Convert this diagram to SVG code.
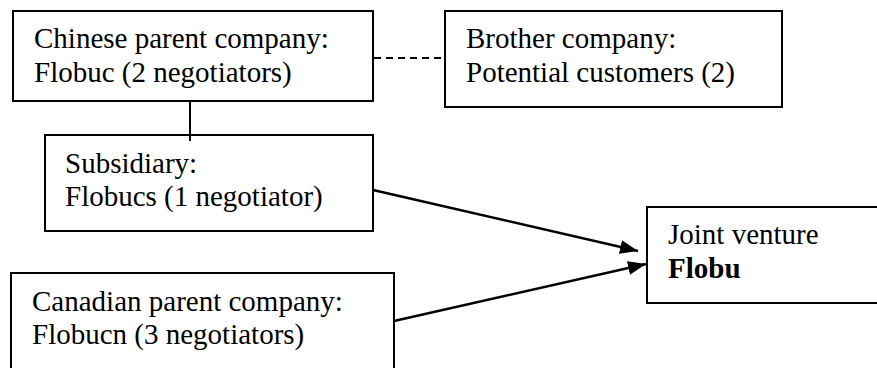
<svg xmlns="http://www.w3.org/2000/svg" width="877" height="368" viewBox="0 0 877 368">
  <style>
    .box { fill: #ffffff; stroke: #000000; stroke-width: 2; }
    .label { font-family: "Liberation Serif", "Times New Roman", Tinos, serif; font-size: 29px; fill: #000000; }
    .bold { font-weight: bold; }
    .link { stroke: #000000; stroke-width: 2; fill: none; }
    .dashed { stroke-dasharray: 7 5; }
    .arrow { stroke: #000000; stroke-width: 2.5; fill: none; marker-end: url(#head); }
  </style>
  <defs>
    <marker id="head" viewBox="0 0 18 14" refX="18" refY="7" markerWidth="18" markerHeight="14" markerUnits="userSpaceOnUse" orient="auto">
      <path d="M0,0 L18,7 L0,14 Z" fill="#000000"/>
    </marker>
  </defs>

  <rect width="877" height="368" fill="#ffffff"/>

  <!-- connectors -->
  <g id="connectors">
    <line class="link dashed" x1="374" y1="58" x2="445" y2="58"/>
    <line class="link" x1="190" y1="101" x2="190" y2="141"/>
    <line class="arrow" x1="373" y1="190" x2="638" y2="251"/>
    <line class="arrow" x1="394" y1="321" x2="646" y2="264"/>
  </g>

  <g id="chinese-parent">
    <rect class="box" x="13" y="11" width="360" height="90"/>
    <text class="label" x="34" y="48">Chinese parent company:</text>
    <text class="label" x="34" y="82">Flobuc (2 negotiators)</text>
  </g>

  <g id="brother-company">
    <rect class="box" x="445" y="11" width="337" height="96"/>
    <text class="label" x="466" y="48">Brother company:</text>
    <text class="label" x="466" y="82">Potential customers (2)</text>
  </g>

  <g id="subsidiary">
    <rect class="box" x="45" y="135" width="328" height="96"/>
    <line class="link" x1="190" y1="135" x2="190" y2="141"/>
    <text class="label" x="65" y="173">Subsidiary:</text>
    <text class="label" x="65" y="206">Flobucs (1 negotiator)</text>
  </g>

  <g id="canadian-parent">
    <rect class="box" x="11" y="273" width="383" height="100"/>
    <text class="label" x="32" y="311">Canadian parent company:</text>
    <text class="label" x="32" y="344">Flobucn (3 negotiators)</text>
  </g>

  <g id="joint-venture">
    <rect class="box" x="647" y="207" width="240" height="96"/>
    <text class="label" x="668" y="244">Joint venture</text>
    <text class="label bold" x="668" y="278">Flobu</text>
  </g>
</svg>
